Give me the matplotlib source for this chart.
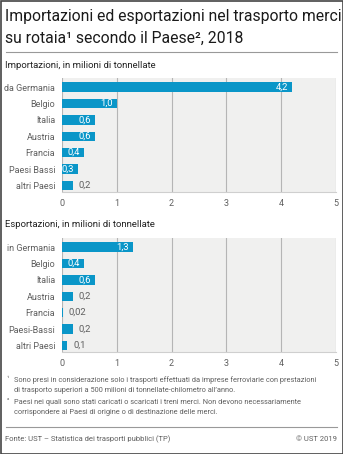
import matplotlib.pyplot as plt
from matplotlib.patches import Rectangle

plt.rcParams['font.family'] = ['Roboto', 'DejaVu Sans']

# dati
paesi_imp = ['da Germania', 'Belgio', 'Italia', 'Austria', 'Francia', 'Paesi Bassi', 'altri Paesi']
valori_imp = [4.2, 1.0, 0.6, 0.6, 0.4, 0.3, 0.2]
etichette_imp = ['4,2', '1,0', '0,6', '0,6', '0,4', '0,3', '0,2']

paesi_exp = ['in Germania', 'Belgio', 'Italia', 'Austria', 'Francia', 'Paesi-Bassi', 'altri Paesi']
valori_exp = [1.3, 0.4, 0.6, 0.2, 0.02, 0.2, 0.1]
etichette_exp = ['1,3', '0,4', '0,6', '0,2', '0,02', '0,2', '0,1']

ticks = [0, 1, 2, 3, 4, 5]

blu = '#0a96c8'
grigio_testo = '#5f5f5f'
W, H = 343, 454

fig = plt.figure(figsize=(W / 100, H / 100), dpi=100)
fig.patch.set_facecolor('white')


def fy(px):
    return 1 - px / H


def draw_panel(top_px, bottom_px, paesi, valori, etichette):
    ax = fig.add_axes([62 / W, fy(bottom_px), 274 / W, (bottom_px - top_px) / H])
    ax.set_facecolor('#f0f0ef')
    y = list(range(len(paesi)))
    ax.barh(y, valori, height=0.57, color=blu, zorder=3)
    ax.set_xlim(0, 5)
    ax.set_ylim(6.4, -0.55)
    ax.set_xticks(ticks)
    ax.set_xticklabels([str(t) for t in ticks])
    ax.set_yticks(y)
    ax.set_yticklabels(paesi)
    ax.tick_params(length=0, labelsize=6.5, colors=grigio_testo)
    ax.tick_params(axis='y', pad=5)
    ax.tick_params(axis='x', pad=5)
    ax.grid(axis='x', color='#b5b5b5', linewidth=0.8, zorder=1)
    for s in ['top', 'right', 'left']:
        ax.spines[s].set_visible(False)
    ax.spines['bottom'].set_color('#cfcfcf')
    ax.spines['bottom'].set_linewidth(0.8)
    for yi, v, lab in zip(y, valori, etichette):
        if v >= 0.3:
            ax.annotate(lab, (v, yi), xytext=(-3, 0), textcoords='offset points',
                        ha='right', va='center', fontsize=6.8, color='white', zorder=4)
        else:
            ax.annotate(lab, (v, yi), xytext=(4, 0), textcoords='offset points',
                        ha='left', va='center', fontsize=6.8, color=grigio_testo, zorder=4)
    return ax


draw_panel(78, 192, paesi_imp, valori_imp, etichette_imp)
draw_panel(238, 352, paesi_exp, valori_exp, etichette_exp)

# titolo
fig.text(5 / W, fy(17), 'Importazioni ed esportazioni nel trasporto merci',
         fontsize=11.3, color='#1a1a1a', va='center', ha='left')
fig.text(5 / W, fy(38), 'su rotaia\u00b9 secondo il Paese\u00b2, 2018',
         fontsize=11.3, color='#1a1a1a', va='center', ha='left')
fig.add_artist(plt.Line2D([6 / W, 337 / W], [fy(52), fy(52)], color='#999999', linewidth=0.8))

fig.text(5 / W, fy(66), 'Importazioni, in milioni di tonnellate', fontsize=6.8,
         color='#222222', va='center', ha='left')
fig.text(5 / W, fy(225), 'Esportazioni, in milioni di tonnellate', fontsize=6.8,
         color='#222222', va='center', ha='left')

# note
note = [
    (380, '\u00b9', 'Sono presi in considerazione solo i trasporti effettuati da imprese ferroviarie con prestazioni'),
    (391, '', 'di trasporto superiori a 500 milioni di tonnellate-chilometro all\u2019anno.'),
    (402, '\u00b2', 'Paesi nei quali sono stati caricati o scaricati i treni merci. Non devono necessariamente'),
    (413, '', 'corrispondere ai Paesi di origine o di destinazione delle merci.'),
]
for ypx, sup, txt in note:
    if sup:
        fig.text(7 / W, fy(ypx - 2), sup, fontsize=4.5, color=grigio_testo, va='center', ha='left')
    fig.text(14 / W, fy(ypx), txt, fontsize=5.3, color=grigio_testo, va='center', ha='left')

fig.add_artist(plt.Line2D([6 / W, 337 / W], [fy(427), fy(427)], color='#999999', linewidth=0.8))
fig.text(5 / W, fy(439), 'Fonte: UST \u2013 Statistica dei trasporti pubblici (TP)', fontsize=5.5,
         color=grigio_testo, va='center', ha='left')
fig.text(337 / W, fy(439), '\u00a9 UST 2019', fontsize=5.5, color=grigio_testo, va='center',
         ha='right')

# bordo
fig.add_artist(Rectangle((0.5 / W, 0.5 / H), 1 - 1 / W, 1 - 1 / H, transform=fig.transFigure,
                         fill=False, edgecolor='#444444', linewidth=1.2))

fig.savefig('out.png', dpi=100)
